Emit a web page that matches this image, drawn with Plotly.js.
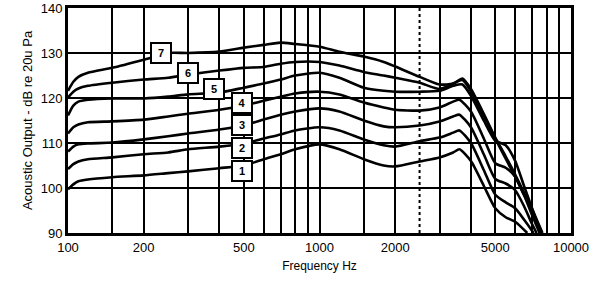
<!DOCTYPE html>
<html>
<head>
<meta charset="utf-8">
<script src="https://cdn.plot.ly/plotly-3.0.1.min.js"></script>
<style>
  html, body { margin: 0; padding: 0; background: #fff; }
  #chart { width: 602px; height: 285px; }
</style>
</head>
<body>
<div id="chart"></div>
<script>
// ---- data ----
const freqLow = [100, 105, 110, 120, 150, 200, 250, 300, 400, 500, 600, 700, 800, 1000, 1200, 1500, 1800, 2000, 2500, 3000, 3400];

const curve7Low = [121.6, 123.6, 124.7, 125.6, 126.7, 128.5, 130.0, 130.0, 130.3, 131.2, 131.8, 132.3, 132.0, 131.4, 130.3, 129.2, 128.0, 127.0, 124.7, 123.0, 123.2];
const curve6Low = [120.1, 121.4, 122.1, 122.7, 123.4, 124.1, 124.5, 125.2, 126.1, 126.7, 126.9, 127.6, 128.0, 128.0, 127.2, 125.8, 125.0, 124.5, 123.4, 122.0, 123.2];
const curve5Low = [116.1, 118.3, 119.2, 119.6, 119.9, 119.9, 120.3, 120.8, 121.2, 122.3, 123.2, 124.1, 125.0, 125.6, 124.5, 122.3, 121.6, 121.4, 121.4, 121.6, 122.7];
const curve4Low = [112.1, 113.5, 114.1, 114.6, 114.8, 115.2, 115.9, 116.5, 117.4, 118.3, 119.4, 120.3, 121.0, 121.4, 120.8, 119.0, 117.9, 117.4, 117.2, 117.9, 119.2];
const curve3Low = [108.1, 109.2, 109.7, 109.9, 110.1, 110.8, 111.5, 112.1, 113.0, 113.9, 115.2, 116.3, 117.0, 117.7, 117.0, 115.0, 113.7, 113.5, 113.9, 114.8, 115.9];
const curve2Low = [104.2, 105.3, 105.9, 106.4, 106.8, 107.5, 107.9, 108.6, 109.2, 109.9, 111.0, 111.9, 112.8, 113.5, 112.8, 110.8, 109.5, 109.2, 110.4, 111.2, 112.3];
const curve1Low = [99.7, 100.8, 101.5, 101.9, 102.4, 102.8, 103.3, 103.7, 104.4, 105.0, 106.4, 107.5, 108.6, 109.7, 108.6, 106.4, 105.0, 104.8, 105.9, 106.8, 107.9];

// high-frequency roll-off (peak near 3.6-3.7 kHz)
const freqHigh7 = [3700, 4000, 4500, 5000, 5500, 6000, 6500, 7000, 7700];
const curve7High = [124.3, 122.0, 116.5, 111.2, 107.0, 103.0, 99.0, 95.3, 90.0];
const freqHigh6 = [3700, 4000, 4500, 5000, 5500, 6000, 6500, 7000, 7600];
const curve6High = [124.0, 121.5, 116.0, 111.0, 106.5, 102.5, 98.5, 95.0, 90.0];
const freqHigh5 = [3700, 4000, 4500, 5000, 5500, 6000, 6500, 7000, 7600];
const curve5High = [123.0, 120.5, 115.0, 110.5, 109.5, 106.0, 100.5, 95.5, 90.0];
const freqHigh4 = [3600, 4000, 4500, 5000, 5500, 6000, 6500, 7000, 7500];
const curve4High = [119.6, 117.0, 111.0, 105.5, 104.5, 102.5, 98.5, 94.0, 90.0];
const freqHigh3 = [3600, 4000, 4500, 5000, 5500, 6000, 6500, 7000, 7300];
const curve3High = [116.3, 113.5, 107.5, 102.0, 101.0, 99.5, 96.0, 92.0, 90.0];
const freqHigh2 = [3600, 4000, 4500, 5000, 5500, 6000, 6500, 7000, 7100];
const curve2High = [112.8, 110.0, 104.0, 98.5, 96.8, 95.5, 93.0, 90.5, 90.0];
const freqHigh1 = [3600, 4000, 4500, 5000, 5500, 6000, 6700];
const curve1High = [108.6, 106.0, 100.5, 95.5, 93.5, 92.5, 90.0];

// curve number boxes
const labelText = ['7', '6', '5', '4', '3', '2', '1'];
const labelFreq = [234, 299, 379, 490, 490, 490, 490];
const labelDb = [130.0, 125.6, 121.9, 118.8, 113.9, 108.8, 103.7];

// axes
const xGridVals = [100, 150, 200, 300, 400, 500, 600, 700, 800, 900, 1000, 1500, 2000, 3000, 4000, 5000, 6000, 7000, 8000, 9000, 10000];
const xLabeled = [100, 200, 500, 1000, 2000, 5000, 10000];
const yTickVals = [90, 100, 110, 120, 130, 140];
const yTickText = ['90', '100', '110', '120', '130', '140'];
const dashedFreq = 2500;
const xTitle = 'Frequency Hz';
const yTitle = 'Acoustic Output - dB re 20u Pa';

// ---- build ----
const lows = [curve1Low, curve2Low, curve3Low, curve4Low, curve5Low, curve6Low, curve7Low];
const fHigh = [freqHigh1, freqHigh2, freqHigh3, freqHigh4, freqHigh5, freqHigh6, freqHigh7];
const vHigh = [curve1High, curve2High, curve3High, curve4High, curve5High, curve6High, curve7High];

const traces = lows.map((low, i) => ({
  x: freqLow.concat(fHigh[i]),
  y: low.concat(vHigh[i]),
  type: 'scatter',
  mode: 'lines',
  line: { color: '#000', width: 2.6, shape: 'spline', smoothing: 0.6 },
  hoverinfo: 'skip',
  showlegend: false,
  cliponaxis: true
}));

const annotations = labelText.map((t, i) => ({
  x: Math.log10(labelFreq[i]),
  y: labelDb[i],
  xref: 'x', yref: 'y',
  text: '<b>' + t + '</b>',
  showarrow: false,
  font: { family: 'Liberation Sans, Arial, sans-serif', size: 11, color: '#000' },
  bgcolor: '#fff',
  bordercolor: '#000',
  borderwidth: 2,
  borderpad: 2,
  width: 14, height: 14
}));

const shapes = [{
  type: 'line', xref: 'x', yref: 'paper',
  x0: dashedFreq, x1: dashedFreq, y0: 0, y1: 1,
  line: { color: '#000', width: 2, dash: 'dot' }
}];

const layout = {
  width: 602, height: 285,
  margin: { l: 68, r: 31, t: 8, b: 52 },
  paper_bgcolor: '#fff',
  plot_bgcolor: '#fff',
  font: { family: 'Liberation Sans, Arial, sans-serif', color: '#000' },
  xaxis: {
    type: 'log',
    range: [2, 4],
    tickmode: 'array',
    tickvals: xGridVals,
    ticktext: xGridVals.map(v => xLabeled.includes(v) ? String(v) : ''),
    showgrid: true, gridcolor: '#000', gridwidth: 2,
    showline: true, linecolor: '#000', linewidth: 3, mirror: true,
    ticks: '', zeroline: false,
    tickfont: { size: 13, color: '#000' },
    title: { text: xTitle, font: { size: 12, color: '#000' }, standoff: 9 }
  },
  yaxis: {
    range: [90, 140],
    tickmode: 'array',
    tickvals: yTickVals,
    ticktext: yTickText,
    showgrid: true, gridcolor: '#000', gridwidth: 2,
    showline: true, linecolor: '#000', linewidth: 3, mirror: true,
    ticks: '', zeroline: false,
    tickfont: { size: 13, color: '#000' },
    title: { text: yTitle, font: { size: 13, color: '#000' }, standoff: 6 }
  },
  annotations: annotations,
  shapes: shapes
};

Plotly.newPlot('chart', traces, layout, { staticPlot: true, displayModeBar: false });
</script>
</body>
</html>
